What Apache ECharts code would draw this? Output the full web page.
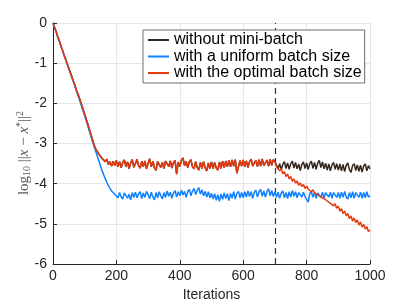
<!DOCTYPE html>
<html><head><meta charset="utf-8">
<script src="https://cdn.jsdelivr.net/npm/echarts@6/dist/echarts.min.js"></script>
<style>html,body{margin:0;padding:0;background:#fff}#c{width:409px;height:307px}</style>
</head><body><div id="c"></div>
<script>
var STEP = 5;
var seriesNames = ['without mini-batch', 'with a uniform batch size', 'with the optimal batch size'];
var switchIter = 700;

var optimal = [
0,-0.11,-0.22,-0.34,-0.45,-0.57,-0.68,-0.8,-0.91,-1.02,-1.13,-1.24,-1.35,-1.46,-1.57,-1.69,-1.8,-1.91,-2.03,-2.15,
-2.27,-2.4,-2.52,-2.65,-2.78,-2.92,-3.05,-3.14,-3.2,-3.27,-3.26,-3.37,-3.33,-3.45,-3.39,-3.52,-3.45,-3.56,-3.44,-3.55,
-3.42,-3.58,-3.45,-3.6,-3.47,-3.41,-3.57,-3.46,-3.62,-3.48,-3.4,-3.59,-3.5,-3.39,-3.55,-3.61,-3.44,-3.57,-3.43,-3.63,
-3.49,-3.38,-3.58,-3.44,-3.6,-3.67,-3.45,-3.41,-3.59,-3.47,-3.62,-3.44,-3.4,-3.57,-3.43,-3.61,-3.48,-3.42,-3.76,-3.46,
-3.57,-3.42,-3.36,-3.55,-3.44,-3.6,-3.46,-3.4,-3.58,-3.63,-3.45,-3.6,-3.66,-3.47,-3.62,-3.45,-3.6,-3.68,-3.48,-3.63,
-3.46,-3.62,-3.47,-3.61,-3.66,-3.46,-3.62,-3.44,-3.6,-3.43,-3.58,-3.42,-3.57,-3.41,-3.56,-3.4,-3.74,-3.58,-3.42,-3.56,
-3.41,-3.57,-3.43,-3.6,-3.45,-3.39,-3.56,-3.6,-3.42,-3.57,-3.4,-3.56,-3.38,-3.55,-3.58,-3.41,-3.56,-3.39,-3.54,-3.4,
-3.45,-3.58,-3.54,-3.68,-3.62,-3.75,-3.7,-3.82,-3.76,-3.88,-3.82,-3.94,-3.88,-3.98,-3.93,-4.04,-3.98,-4.07,-4.02,-4.12,
-4.06,-4.13,-4.11,-4.2,-4.15,-4.23,-4.2,-4.27,-4.24,-4.33,-4.3,-4.37,-4.35,-4.43,-4.39,-4.49,-4.45,-4.55,-4.5,-4.61,
-4.56,-4.68,-4.62,-4.74,-4.68,-4.8,-4.74,-4.87,-4.8,-4.93,-4.85,-4.97,-4.9,-5.03,-4.95,-5.08,-5.01,-5.13,-5.07,-5.19,
-5.15];

var uniform = [
0,-0.11,-0.22,-0.34,-0.45,-0.57,-0.68,-0.8,-0.91,-1.02,-1.14,-1.25,-1.37,-1.48,-1.6,-1.72,-1.83,-1.95,-2.07,-2.19,
-2.31,-2.44,-2.57,-2.7,-2.83,-2.96,-3.08,-3.2,-3.32,-3.44,-3.56,-3.68,-3.78,-3.88,-3.97,-4.05,-4.12,-4.18,-4.22,-4.26,
-4.24,-4.35,-4.22,-4.33,-4.38,-4.23,-4.2,-4.36,-4.26,-4.4,-4.22,-4.34,-4.21,-4.35,-4.25,-4.2,-4.37,-4.23,-4.34,-4.19,
-4.27,-4.37,-4.21,-4.33,-4.4,-4.22,-4.35,-4.2,-4.3,-4.38,-4.22,-4.34,-4.18,-4.31,-4.21,-4.36,-4.23,-4.17,-4.33,-4.2,
-4.3,-4.16,-4.28,-4.19,-4.34,-4.2,-4.14,-4.3,-4.18,-4.12,-4.27,-4.16,-4.1,-4.26,-4.15,-4.3,-4.19,-4.33,-4.2,-4.35,
-4.24,-4.38,-4.25,-4.41,-4.27,-4.44,-4.26,-4.39,-4.23,-4.37,-4.25,-4.42,-4.24,-4.36,-4.2,-4.38,-4.24,-4.19,-4.35,-4.22,
-4.35,-4.2,-4.33,-4.18,-4.32,-4.2,-4.36,-4.21,-4.16,-4.33,-4.2,-4.14,-4.31,-4.18,-4.33,-4.2,-4.12,-4.3,-4.17,-4.32,
-4.2,-4.34,-4.21,-4.36,-4.23,-4.18,-4.35,-4.22,-4.37,-4.2,-4.33,-4.17,-4.31,-4.2,-4.35,-4.22,-4.18,-4.33,-4.21,-4.32,
-4.3,-4.46,-4.25,-4.2,-4.34,-4.21,-4.36,-4.23,-4.19,-4.34,-4.21,-4.36,-4.22,-4.18,-4.33,-4.21,-4.36,-4.22,-4.19,-4.34,
-4.22,-4.36,-4.21,-4.34,-4.19,-4.33,-4.38,-4.22,-4.35,-4.2,-4.36,-4.22,-4.19,-4.34,-4.21,-4.36,-4.22,-4.35,-4.2,-4.33,
-4.3];

// without mini-batch: same run as the optimal curve up to iteration 700, then this tail (705..1000)
var noBatchTail = [
-3.47,-3.63,-3.5,-3.65,-3.52,-3.45,-3.62,-3.48,-3.64,-3.5,-3.44,-3.61,-3.47,-3.63,-3.51,-3.67,-3.52,-3.46,-3.62,
-3.48,-3.65,-3.5,-3.44,-3.62,-3.47,-3.64,-3.49,-3.42,-3.6,-3.46,-3.63,-3.49,-3.66,-3.51,-3.68,-3.53,-3.47,-3.64,-3.5,
-3.66,-3.51,-3.68,-3.52,-3.7,-3.54,-3.48,-3.65,-3.72,-3.55,-3.5,-3.67,-3.53,-3.69,-3.54,-3.71,-3.56,-3.51,-3.68,-3.55,
-3.63];

var noBatch = optimal.slice(0, switchIter / STEP + 1).concat(noBatchTail);

function pairs(arr) { return arr.map(function (v, i) { return [i * STEP, v]; }); }

var chart = echarts.init(document.getElementById('c'), null, {renderer: 'canvas'});
var txt = '#262626';
var sans = 'Liberation Sans, Arial, sans-serif';
var serif = 'Liberation Serif, Times New Roman, serif';
chart.setOption({
  animation: false,
  backgroundColor: '#fff',
  grid: {left: 53, right: 39, top: 23, bottom: 34, containLabel: false},
  legend: {
    left: 143, top: 30, orient: 'vertical', z: 20,
    data: seriesNames,
    itemWidth: 21, itemHeight: 15, itemGap: 0.5,
    padding: [2, 3, 2, 4],
    itemStyle: {opacity: 0},
    backgroundColor: '#fff', borderColor: '#6e6e6e', borderWidth: 1, borderRadius: 0,
    textStyle: {fontFamily: sans, fontSize: 16, lineHeight: 15, color: '#000'}
  },
  graphic: [{
    type: 'text', x: 24, y: 153, rotation: Math.PI / 2, silent: true,
    style: {
      text: '{n|log}{s|10}{n| ||}{i|x}{n| − }{i|x}{p|*}{n|||}{p|2}',
      align: 'center', verticalAlign: 'middle',
      rich: {
        n: {fontFamily: serif, fontSize: 15, fill: '#5a5a5a', verticalAlign: 'middle'},
        i: {fontFamily: serif, fontSize: 15, fontStyle: 'italic', fill: '#5a5a5a'},
        s: {fontFamily: serif, fontSize: 10, fill: '#5a5a5a', padding: [7, 0, 0, 0]},
        p: {fontFamily: serif, fontSize: 10, fill: '#5a5a5a', padding: [0, 0, 7, 0]}
      }
    }
  }],
  xAxis: {
    type: 'value', min: 0, max: 1000, interval: 200,
    name: 'Iterations', nameLocation: 'middle', nameGap: 18,
    nameTextStyle: {fontFamily: sans, fontSize: 14, color: txt},
    axisLine: {show: true, onZero: false, lineStyle: {color: txt, width: 1}},
    axisTick: {show: true, inside: true, length: 4, lineStyle: {color: txt}},
    axisLabel: {fontFamily: sans, fontSize: 14, color: txt, margin: 5,
      formatter: function (v) { return String(v); }},
    splitLine: {show: true, lineStyle: {color: '#e6e6e6', width: 1}}
  },
  yAxis: {
    type: 'value', min: -6, max: 0, interval: 1,
    axisLine: {show: true, onZero: false, lineStyle: {color: txt, width: 1}},
    axisTick: {show: true, inside: true, length: 4, lineStyle: {color: txt}},
    axisLabel: {fontFamily: sans, fontSize: 14, color: txt, margin: 6,
      formatter: function (v) { return String(v); }},
    splitLine: {show: true, lineStyle: {color: '#e6e6e6', width: 1}}
  },
  series: [
    {name: seriesNames[0], type: 'line', data: pairs(noBatch), showSymbol: false, symbol: 'none',
     lineStyle: {color: '#35271f', width: 1.5}, itemStyle: {color: '#35271f'},
     markLine: {silent: true, z: 1, symbol: 'none', label: {show: false},
       lineStyle: {color: '#333', type: [6, 4], width: 1.2}, data: [{xAxis: switchIter}]}},
    {name: seriesNames[1], type: 'line', data: pairs(uniform), showSymbol: false, symbol: 'none',
     lineStyle: {color: '#0f80ff', width: 1.5}, itemStyle: {color: '#0f80ff'}},
    {name: seriesNames[2], type: 'line', data: pairs(optimal), showSymbol: false, symbol: 'none',
     lineStyle: {color: '#e8390e', width: 1.5}, itemStyle: {color: '#e8390e'}}
  ]
});
</script></body></html>
